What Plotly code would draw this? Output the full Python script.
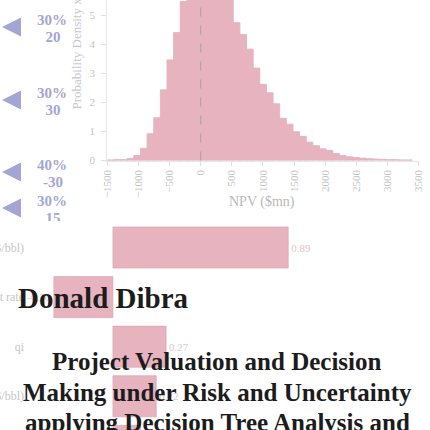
import plotly.graph_objects as go

# ---------------- data ----------------
# NPV histogram (probability density x 1e-4), bins starting at -1500 $mn
bin_start = -1500.0
bin_width = 106.5
density = [0.02, 0.03, 0.03, 0.07, 0.17, 0.42, 0.92, 1.47, 2.43, 3.46,
           4.40, 5.47, 5.85, 6.05, 6.10, 6.00, 5.90, 5.75, 5.60, 4.74,
           4.33, 3.83, 3.18, 2.62, 2.33, 1.95, 1.45, 1.25, 0.99, 0.83,
           0.63, 0.51, 0.40, 0.35, 0.24, 0.17, 0.13, 0.10, 0.08, 0.06,
           0.05, 0.04, 0.03, 0.03, 0.02, 0.02]
npv_ticks = [-1500, -1000, -500, 0, 500, 1000, 1500, 2000, 2500, 3000, 3500]
density_ticks = [0, 1, 2, 3, 4, 5]
breakeven_npv = 0

# tornado (sensitivity) chart
sens_labels = ["Oil Price ($/bbl)", "Discount rate", "qi", "Opex ($/bbl)", "Capex ($mn)"]
sens_values = [0.89, -0.30, 0.27, 0.22, 0.14]

# decision tree branches
branch_prob = ["30%", "30%", "40%", "30%"]
branch_payoff = ["20", "30", "-30", "15"]
branch_pos = [27, 100, 172, 208]   # vertical position of the chance branches in the tree layout

# ---------------- styling ----------------
W = H = 430
PINK = "#e6b3bf"
PINK_EDGE = "#d4a1ae"
LAV = "#a3a6d2"
SERIF = "Liberation Serif"

def px_x(p):
    return p / W

def px_y(p):
    return 1 - p / H

centers = [bin_start + (i + 0.5) * bin_width for i in range(len(density))]
edges = [bin_start + i * bin_width for i in range(len(density) + 1)]

fig = go.Figure()

# histogram fill as one stepped area (no seams between bins)
fig.add_trace(go.Scatter(
    x=edges, y=density + [density[-1]], mode="lines", line_shape="hv",
    line=dict(width=0, color=PINK), fill="tozeroy", fillcolor=PINK,
    xaxis="x", yaxis="y", showlegend=False, hoverinfo="skip"))
# histogram bin outlines
fig.add_trace(go.Bar(
    x=centers, y=density, width=bin_width,
    marker=dict(color="rgba(0,0,0,0)", line=dict(color=PINK_EDGE, width=0.7)),
    xaxis="x", yaxis="y", showlegend=False, hoverinfo="skip"))

# tornado
fig.add_trace(go.Bar(
    y=sens_labels, x=sens_values, orientation="h", width=0.83,
    marker=dict(color=PINK, line=dict(color=PINK_EDGE, width=0.6)),
    text=[f"{v:.2f}" for v in sens_values], textposition="outside",
    textfont=dict(family=SERIF, size=11, color="#e3c4ca"),
    cliponaxis=False,
    xaxis="x2", yaxis="y2", showlegend=False, hoverinfo="skip"))

# decision tree nodes (tree x-units: 1 unit = 1 px, offset 10)
fig.add_trace(go.Scatter(
    x=[-8] * len(branch_pos), y=branch_pos, mode="markers",
    marker=dict(symbol="arrow-left", size=19, color=LAV, line=dict(width=0)),
    xaxis="x3", yaxis="y3", showlegend=False, hoverinfo="skip", cliponaxis=False))
fig.add_trace(go.Scatter(
    x=[42] * len(branch_pos), y=[p - 5.5 for p in branch_pos], mode="text",
    text=branch_prob, textposition="middle center",
    textfont=dict(family=SERIF, size=15, color=LAV, weight="bold"),
    xaxis="x3", yaxis="y3", showlegend=False, hoverinfo="skip", cliponaxis=True))
fig.add_trace(go.Scatter(
    x=[43] * len(branch_pos), y=[p + 11 for p in branch_pos], mode="text",
    text=branch_payoff, textposition="middle center",
    textfont=dict(family=SERIF, size=15, color=LAV, weight="bold"),
    xaxis="x3", yaxis="y3", showlegend=False, hoverinfo="skip", cliponaxis=True))

axis_font = dict(family=SERIF, size=11, color="#c4c4c4")

fig.update_layout(
    width=W, height=H, margin=dict(l=0, r=0, t=0, b=0),
    template="none", paper_bgcolor="white", plot_bgcolor="rgba(0,0,0,0)",
    barmode="overlay",
    xaxis=dict(domain=[px_x(107.3), px_x(418.6)], range=[-1500, 3500], anchor="y",
               tickvals=npv_ticks, tickangle=-90, tickfont=axis_font,
               showline=True, linecolor="#e8e8e8", linewidth=1,
               ticks="outside", ticklen=4, tickcolor="#e0e0e0",
               showgrid=False, zeroline=False, automargin=False),
    yaxis=dict(domain=[px_y(160.5), 1], range=[0, 5.52], anchor="x",
               tickvals=density_ticks, tickfont=axis_font,
               showline=True, linecolor="#e8e8e8", linewidth=1,
               ticks="outside", ticklen=5, tickcolor="#e0e0e0",
               ticklabelstandoff=4,
               showgrid=False, zeroline=False, automargin=False),
    xaxis2=dict(domain=[px_x(30), px_x(317)], range=[-0.421, 1.036], anchor="y2",
                showticklabels=False, ticks="", showline=False, showgrid=False,
                zeroline=False, automargin=False),
    yaxis2=dict(domain=[0, px_y(222.7)], type="category",
                categoryorder="array", categoryarray=sens_labels,
                range=[3.68, -0.5], anchor="x2",
                tickfont=dict(family=SERIF, size=12, color="#c6c6c6"),
                ticks="", ticklabelstandoff=5,
                showline=False, showgrid=False, zeroline=False, automargin=False),
    xaxis3=dict(domain=[0, px_x(100)], range=[-10, 90], anchor="y3", visible=False),
    yaxis3=dict(domain=[px_y(221), 1], range=[221, 0], anchor="x3", visible=False),
)

fig.add_vline(x=breakeven_npv, xref="x", yref="y", line=dict(color="#a8a0a4", width=1, dash="dash"),
              layer="above")

annotations = [
    dict(text="NPV ($mn)", x=px_x(262), y=px_y(202), xref="paper", yref="paper",
         showarrow=False, font=dict(family=SERIF, size=14, color="#b8b8b8"),
         xanchor="center", yanchor="middle"),
    dict(text="Probability Density x 10<sup>-4</sup>", x=px_x(75), y=px_y(112),
         xref="paper", yref="paper", showarrow=False, textangle=-90,
         font=dict(family=SERIF, size=13, color="#c8c8d0"),
         xanchor="center", yanchor="bottom"),
    dict(text="<b>Donald Dibra</b>", x=px_x(103), y=px_y(297.5), xref="paper", yref="paper",
         showarrow=False, font=dict(family=SERIF, size=29, color="#1c1c1c"),
         xanchor="center", yanchor="middle"),
]
for txt, yc in [("Project Valuation and Decision", 361),
                ("Making under Risk and Uncertainty", 392),
                ("applying Decision Tree Analysis and", 422)]:
    annotations.append(dict(text=f"<b>{txt}</b>", x=px_x(217), y=px_y(yc),
                            xref="paper", yref="paper", showarrow=False,
                            font=dict(family=SERIF, size=25, color="#1c1c1c"),
                            xanchor="center", yanchor="middle"))
fig.update_layout(annotations=annotations)

fig.write_html("out.html")
